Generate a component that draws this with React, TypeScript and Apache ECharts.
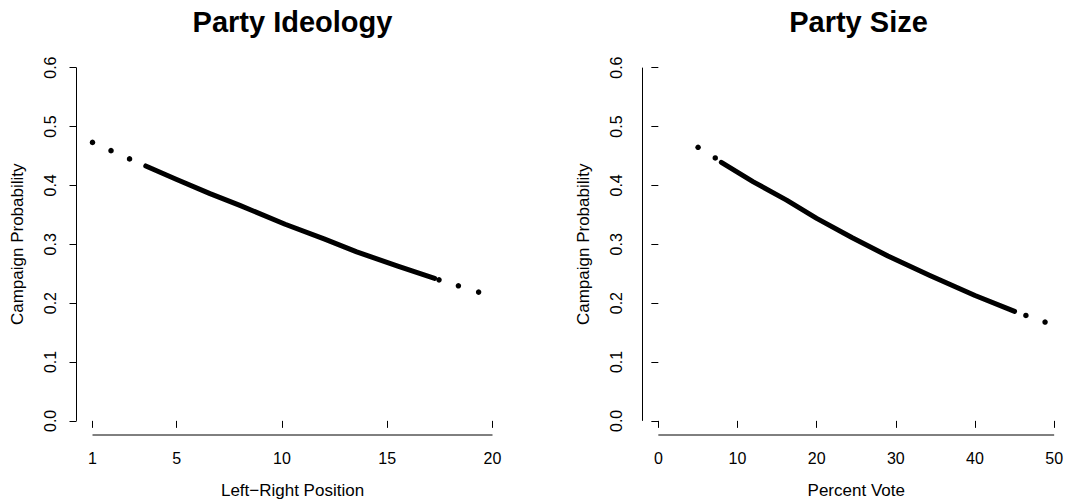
import React, { useEffect, useRef } from "react";
import * as echarts from "echarts";

// ---- Data ----
const ideoTicks = [1, 5, 10, 15, 20];
const ideoXlim = [1, 20];
const ideoDotsX = [1.0, 1.88, 2.76, 17.46, 18.38, 19.34];
const ideoDotsY = [0.473, 0.459, 0.445, 0.2395, 0.2294, 0.2187];
const ideoCurveX = [3.53, 5, 6.58, 8, 10.15, 12, 13.55, 15.5, 17.25];
const ideoCurveY = [0.433, 0.41, 0.386, 0.366, 0.334, 0.309, 0.287, 0.263, 0.242];

const sizeTicks = [0, 10, 20, 30, 40, 50];
const sizeXlim = [0, 50];
const sizeDotsX = [5.02, 7.19, 46.43, 48.85];
const sizeDotsY = [0.4646, 0.4466, 0.1791, 0.1679];
const sizeCurveX = [7.96, 12, 16.2, 20, 24.5, 29, 34.3, 40, 45.0];
const sizeCurveY = [0.439, 0.406, 0.375, 0.344, 0.311, 0.28, 0.247, 0.213, 0.186];

const probTicks = [0, 0.1, 0.2, 0.3, 0.4, 0.5, 0.6];
const probYlim = [0, 0.6];

const titles = ["Party Ideology", "Party Size"];
const xNames = ["Left\u2212Right Position", "Percent Vote"];
const yName = "Campaign Probability";

const FONT = "'Liberation Sans', Arial, Helvetica, sans-serif";

const zip = (xs: number[], ys: number[]) => xs.map((x, i) => [x, ys[i]]);
const padLim = (l: number[]) => {
  const p = 0.04 * (l[1] - l[0]);
  return [l[0] - p, l[1] + p];
};

export default function App() {
  const ref = useRef<HTMLDivElement>(null);
  useEffect(() => {
    document.body.style.margin = "0";
    const chart = echarts.init(ref.current!, null, { renderer: "svg" });
    const grids = [
      { left: 76.5, top: 53.5, width: 432, height: 383 },
      { left: 642.5, top: 53.5, width: 432, height: 383 },
    ];
    const xl = [padLim(ideoXlim), padLim(sizeXlim)];
    const yl = padLim(probYlim);
    const xTicks = [ideoTicks, sizeTicks];
    const rawX = [ideoXlim, sizeXlim];

    const xAxis = [0, 1].map((i) => ({
      type: "value",
      gridIndex: i,
      min: xl[i][0],
      max: xl[i][1],
      name: xNames[i],
      nameLocation: "middle",
      nameGap: 47,
      nameTextStyle: { fontFamily: FONT, fontSize: 17, color: "#000" },
      axisLine: { show: false },
      splitLine: { show: false },
      axisTick: {
        show: true,
        length: 7,
        customValues: xTicks[i],
        lineStyle: { color: "#000", width: 1 },
      },
      axisLabel: {
        customValues: xTicks[i],
        margin: 15,
        fontFamily: FONT,
        fontSize: 16,
        color: "#000",
        formatter: (v: number) => String(v),
      },
    }));

    const yAxis = [0, 1].map((i) => ({
      type: "value",
      gridIndex: i,
      min: yl[0],
      max: yl[1],
      name: yName,
      nameLocation: "middle",
      nameGap: 51,
      nameTextStyle: { fontFamily: FONT, fontSize: 17, color: "#000" },
      axisLine: { show: false },
      splitLine: { show: false },
      axisTick: {
        show: true,
        length: 7,
        customValues: probTicks,
        lineStyle: { color: "#000", width: 1 },
      },
      axisLabel: {
        customValues: probTicks,
        rotate: 90,
        margin: 18,
        fontFamily: FONT,
        fontSize: 16,
        color: "#000",
        formatter: (v: number) => v.toFixed(1),
      },
    }));

    const series: any[] = [];
    const curves = [zip(ideoCurveX, ideoCurveY), zip(sizeCurveX, sizeCurveY)];
    const dots = [zip(ideoDotsX, ideoDotsY), zip(sizeDotsX, sizeDotsY)];
    [0, 1].forEach((i) => {
      // R-style axis lines spanning only the tick range
      series.push({
        type: "line",
        xAxisIndex: i,
        yAxisIndex: i,
        data: [
          [rawX[i][0], yl[0]],
          [rawX[i][1], yl[0]],
        ],
        symbol: "none",
        clip: false,
        silent: true,
        lineStyle: { color: "#000", width: 1, opacity: 1 },
      });
      series.push({
        type: "line",
        xAxisIndex: i,
        yAxisIndex: i,
        data: [
          [xl[i][0], probYlim[0]],
          [xl[i][0], probYlim[1]],
        ],
        symbol: "none",
        clip: false,
        silent: true,
        lineStyle: { color: "#000", width: 1, opacity: 1 },
      });
      series.push({
        type: "line",
        xAxisIndex: i,
        yAxisIndex: i,
        data: curves[i],
        smooth: false,
        symbol: "none",
        lineStyle: { color: "#000", width: 5, cap: "round", join: "round", opacity: 1 },
      });
      series.push({
        type: "scatter",
        xAxisIndex: i,
        yAxisIndex: i,
        data: dots[i],
        symbol: "circle",
        symbolSize: 5.5,
        itemStyle: { color: "#000", opacity: 1 },
      });
    });

    chart.setOption({
      animation: false,
      backgroundColor: "#fff",
      grid: grids,
      xAxis,
      yAxis,
      series,
      graphic: [0, 1].map((i) => ({
        type: "text",
        x: grids[i].left + grids[i].width / 2,
        y: 22,
        style: {
          text: titles[i],
          fontFamily: FONT,
          fontWeight: "bold",
          fontSize: 29,
          fill: "#000",
          textAlign: "center",
          textVerticalAlign: "middle",
        },
      })),
    });
    return () => chart.dispose();
  }, []);
  return <div ref={ref} style={{ width: 1070, height: 504 }} />;
}
